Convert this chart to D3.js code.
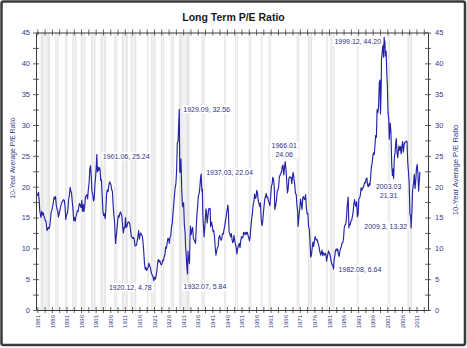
<!DOCTYPE html>
<html>
<head>
<meta charset="utf-8">
<script src="https://cdn.jsdelivr.net/npm/d3@7"></script>
<style>
  body { margin: 0; background: #fff; }
  svg { display: block; font-family: "Liberation Sans", Arial, sans-serif; }
</style>
</head>
<body>
<svg id="chart" width="467" height="348"></svg>
<script>
// Cyclically adjusted P/E (10-year average earnings): [year, month, ratio]
const capeSeries = [
  [1881,1,18.5],[1881,4,18.9],[1881,6,19.1],[1881,9,17.6],[1881,11,16.2],
  [1882,1,15.6],[1882,4,15.0],[1882,7,16.0],[1882,10,15.4],
  [1883,1,15.8],[1883,4,15.3],[1883,7,14.9],[1883,10,14.5],
  [1884,1,14.3],[1884,4,13.1],[1884,6,12.9],[1884,10,13.4],
  [1885,1,13.2],[1885,4,13.5],[1885,7,14.6],[1885,10,15.9],
  [1886,1,16.2],[1886,4,16.8],[1886,7,17.5],[1886,10,18.3],
  [1887,1,18.0],[1887,4,18.4],[1887,7,17.0],[1887,10,16.4],
  [1888,1,16.0],[1888,4,15.1],[1888,7,15.6],[1888,10,16.2],
  [1889,1,16.8],[1889,4,17.2],[1889,7,17.5],[1889,10,17.7],
  [1890,1,17.9],[1890,4,17.8],[1890,7,16.8],[1890,10,14.7],
  [1891,1,15.4],[1891,4,15.6],[1891,7,16.4],[1891,10,18.0],
  [1892,1,18.6],[1892,4,19.9],[1892,7,19.3],[1892,10,18.9],
  [1893,1,17.5],[1893,4,16.2],[1893,7,14.5],[1893,10,15.0],
  [1894,1,14.4],[1894,4,15.2],[1894,7,15.6],[1894,10,16.1],
  [1895,1,16.0],[1895,4,16.8],[1895,7,17.3],[1895,10,16.9],
  [1896,1,16.6],[1896,4,17.8],[1896,7,16.0],[1896,10,17.1],
  [1897,1,16.0],[1897,4,16.8],[1897,7,18.3],[1897,10,18.5],
  [1898,1,18.7],[1898,4,18.0],[1898,7,19.6],[1898,10,20.6],
  [1899,1,22.9],[1899,4,23.4],[1899,7,21.6],[1899,10,19.2],
  [1900,1,18.8],[1900,4,17.7],[1900,7,18.0],[1900,10,20.4],
  [1901,1,21.7],[1901,4,23.6],[1901,6,25.24],[1901,8,22.4],[1901,10,23.2],
  [1902,1,22.6],[1902,4,23.1],[1902,7,22.8],[1902,10,21.0],
  [1903,1,21.1],[1903,4,18.5],[1903,7,16.0],[1903,10,15.3],
  [1904,1,15.6],[1904,4,14.8],[1904,7,16.3],[1904,10,18.8],
  [1905,1,19.5],[1905,4,19.2],[1905,7,20.1],[1905,10,20.8],
  [1906,1,20.6],[1906,4,20.3],[1906,7,19.5],[1906,10,19.2],
  [1907,1,17.0],[1907,4,15.4],[1907,7,14.2],[1907,10,11.5],[1907,11,10.8],
  [1908,1,11.6],[1908,4,12.8],[1908,7,14.2],[1908,10,15.3],
  [1909,1,15.0],[1909,4,15.6],[1909,7,15.9],[1909,10,15.6],
  [1910,1,15.1],[1910,4,13.6],[1910,7,12.5],[1910,10,13.4],
  [1911,1,13.3],[1911,4,15.0],[1911,7,13.4],[1911,10,13.6],
  [1912,1,14.1],[1912,4,14.3],[1912,7,14.2],[1912,10,13.9],
  [1913,1,12.8],[1913,4,11.9],[1913,7,11.8],[1913,10,11.6],
  [1914,1,11.8],[1914,4,11.4],[1914,7,10.4],[1914,12,10.5],
  [1915,1,10.5],[1915,4,11.2],[1915,7,12.0],[1915,10,12.9],
  [1916,1,11.5],[1916,4,12.2],[1916,7,12.5],[1916,10,12.2],
  [1917,1,12.0],[1917,4,10.9],[1917,7,9.4],[1917,10,7.5],
  [1918,1,6.6],[1918,4,6.9],[1918,7,6.4],[1918,10,6.7],
  [1919,1,6.9],[1919,4,7.6],[1919,7,7.2],[1919,10,6.9],
  [1920,1,6.2],[1920,4,5.8],[1920,7,5.6],[1920,10,5.2],[1920,12,4.78],
  [1921,2,5.2],[1921,4,5.3],[1921,7,5.0],[1921,10,5.6],
  [1922,1,6.4],[1922,4,7.6],[1922,7,8.2],[1922,10,7.8],
  [1923,1,8.0],[1923,4,7.6],[1923,7,7.3],[1923,10,7.5],
  [1924,1,8.1],[1924,4,8.0],[1924,7,8.6],[1924,10,9.0],
  [1925,1,10.2],[1925,4,10.0],[1925,7,10.8],[1925,10,11.6],
  [1926,1,11.6],[1926,4,10.8],[1926,7,11.8],[1926,10,12.0],
  [1927,1,13.4],[1927,4,14.0],[1927,7,15.6],[1927,10,17.0],
  [1928,1,18.4],[1928,4,19.8],[1928,7,20.4],[1928,10,22.5],
  [1929,1,27.1],[1929,4,27.3],[1929,7,30.5],[1929,9,32.56],[1929,11,22.5],
  [1930,1,22.3],[1930,4,24.5],[1930,7,19.8],[1930,10,17.0],
  [1931,1,16.7],[1931,3,17.4],[1931,6,13.8],[1931,9,12.6],[1931,11,10.2],
  [1932,1,9.3],[1932,4,7.2],[1932,6,6.2],[1932,7,5.84],[1932,9,9.5],[1932,11,8.0],
  [1933,1,8.7],[1933,3,7.5],[1933,5,11.2],[1933,7,13.6],[1933,10,12.2],
  [1934,1,13.0],[1934,4,13.4],[1934,7,11.6],[1934,10,11.4],
  [1935,1,11.1],[1935,4,10.8],[1935,7,13.5],[1935,10,15.6],
  [1936,1,17.1],[1936,4,18.6],[1936,7,18.9],[1936,10,20.0],
  [1937,1,21.6],[1937,3,22.04],[1937,6,19.3],[1937,8,19.6],[1937,10,15.6],[1937,12,14.0],
  [1938,1,13.4],[1938,3,11.9],[1938,6,13.3],[1938,9,15.2],[1938,11,16.4],
  [1939,1,15.9],[1939,4,14.1],[1939,7,15.2],[1939,10,16.4],
  [1940,1,16.4],[1940,4,16.5],[1940,6,13.5],[1940,10,14.3],
  [1941,1,13.6],[1941,4,12.7],[1941,7,12.9],[1941,10,11.9],
  [1942,1,10.1],[1942,4,8.9],[1942,7,9.6],[1942,10,10.1],
  [1943,1,10.3],[1943,4,11.8],[1943,7,12.1],[1943,10,11.6],
  [1944,1,11.3],[1944,4,11.6],[1944,7,12.4],[1944,10,12.3],
  [1945,1,13.0],[1945,4,13.6],[1945,7,14.4],[1945,10,15.1],
  [1946,1,16.0],[1946,5,17.0],[1946,7,16.2],[1946,10,12.6],
  [1947,1,12.4],[1947,4,11.9],[1947,7,12.4],[1947,10,11.5],
  [1948,1,10.9],[1948,4,11.2],[1948,6,12.1],[1948,10,11.1],
  [1949,1,10.5],[1949,4,10.0],[1949,6,9.1],[1949,10,10.1],
  [1950,1,10.5],[1950,4,10.8],[1950,7,10.1],[1950,10,11.2],
  [1951,1,11.9],[1951,4,11.7],[1951,7,11.8],[1951,10,12.6],
  [1952,1,12.5],[1952,4,12.2],[1952,7,12.6],[1952,10,12.3],
  [1953,1,12.6],[1953,4,12.1],[1953,7,11.7],[1953,10,11.2],
  [1954,1,12.0],[1954,4,13.6],[1954,7,14.8],[1954,10,15.7],
  [1955,1,17.1],[1955,4,17.6],[1955,7,18.8],[1955,10,18.1],
  [1956,1,18.3],[1956,4,19.4],[1956,7,19.0],[1956,10,17.8],
  [1957,1,17.2],[1957,4,16.8],[1957,7,17.4],[1957,10,14.8],
  [1958,1,13.7],[1958,4,14.2],[1958,7,15.6],[1958,10,16.9],
  [1959,1,18.0],[1959,4,18.4],[1959,7,18.9],[1959,10,18.2],
  [1960,1,18.3],[1960,4,17.6],[1960,7,17.4],[1960,10,16.9],
  [1961,1,18.3],[1961,4,20.0],[1961,7,20.4],[1961,10,21.5],
  [1962,1,21.2],[1962,4,19.9],[1962,6,16.3],[1962,10,17.0],
  [1963,1,17.8],[1963,4,19.3],[1963,7,19.4],[1963,10,20.1],
  [1964,1,21.6],[1964,4,21.9],[1964,7,22.2],[1964,10,22.4],
  [1965,1,23.3],[1965,4,23.5],[1965,7,21.9],[1965,10,23.1],
  [1966,1,24.06],[1966,4,22.8],[1966,7,21.0],[1966,10,19.0],
  [1967,1,19.6],[1967,4,21.3],[1967,7,21.6],[1967,10,21.5],
  [1968,1,21.5],[1968,4,20.5],[1968,7,21.7],[1968,10,22.3],
  [1969,1,21.2],[1969,4,20.4],[1969,7,18.9],[1969,10,18.8],
  [1970,1,17.1],[1970,4,16.0],[1970,6,13.6],[1970,10,15.4],
  [1971,1,16.5],[1971,4,18.0],[1971,7,17.2],[1971,10,16.3],
  [1972,1,18.1],[1972,4,18.4],[1972,7,18.0],[1972,10,17.9],
  [1973,1,18.7],[1973,4,16.6],[1973,7,15.6],[1973,10,15.7],
  [1974,1,13.5],[1974,4,13.2],[1974,7,11.0],[1974,10,8.6],
  [1975,1,8.9],[1975,4,10.1],[1975,7,11.0],[1975,10,10.3],
  [1976,1,11.2],[1976,4,11.9],[1976,7,11.5],[1976,10,11.3],
  [1977,1,11.4],[1977,4,10.8],[1977,7,10.5],[1977,10,9.7],
  [1978,1,9.2],[1978,3,8.9],[1978,8,9.7],[1978,11,8.8],
  [1979,1,9.3],[1979,4,9.1],[1979,7,8.9],[1979,10,9.2],
  [1980,1,8.9],[1980,3,7.9],[1980,7,8.8],[1980,11,9.6],
  [1981,1,9.3],[1981,4,9.1],[1981,7,8.6],[1981,10,7.9],
  [1982,1,7.4],[1982,4,7.3],[1982,8,6.64],[1982,10,8.1],
  [1983,1,8.8],[1983,4,9.7],[1983,7,9.9],[1983,10,9.6],
  [1984,1,9.9],[1984,4,9.0],[1984,7,8.7],[1984,10,9.6],
  [1985,1,10.0],[1985,4,10.3],[1985,7,10.9],[1985,10,10.9],
  [1986,1,11.7],[1986,4,13.4],[1986,7,13.8],[1986,10,13.9],
  [1987,1,14.9],[1987,4,16.9],[1987,8,18.3],[1987,11,13.3],
  [1988,1,13.9],[1988,4,13.8],[1988,7,14.4],[1988,10,14.5],
  [1989,1,15.1],[1989,4,15.8],[1989,7,17.0],[1989,10,17.9],
  [1990,1,17.1],[1990,4,16.8],[1990,7,17.6],[1990,10,15.1],
  [1991,1,15.6],[1991,4,18.0],[1991,7,18.2],[1991,10,18.6],
  [1992,1,19.8],[1992,4,19.4],[1992,7,19.8],[1992,10,19.8],
  [1993,1,20.3],[1993,4,20.7],[1993,7,20.6],[1993,10,21.3],
  [1994,1,21.4],[1994,4,20.2],[1994,7,20.0],[1994,10,20.5],
  [1995,1,20.2],[1995,4,21.3],[1995,7,23.0],[1995,10,23.7],
  [1996,1,24.8],[1996,4,25.5],[1996,7,25.2],[1996,10,26.6],
  [1997,1,28.3],[1997,4,28.0],[1997,7,32.5],[1997,10,32.0],
  [1998,1,32.9],[1998,4,36.9],[1998,7,37.3],[1998,9,31.8],[1998,12,36.4],
  [1999,1,40.6],[1999,4,41.8],[1999,7,43.0],[1999,10,41.0],[1999,12,44.2],
  [2000,1,43.8],[2000,3,43.5],[2000,5,41.2],[2000,8,42.0],[2000,10,39.5],[2000,12,37.3],
  [2001,1,36.7],[2001,4,32.0],[2001,7,30.9],[2001,9,27.7],[2001,11,29.2],
  [2002,1,30.3],[2002,4,28.8],[2002,7,23.7],[2002,10,21.8],
  [2003,1,22.9],[2003,3,21.31],[2003,6,24.8],[2003,9,25.6],[2003,12,27.2],
  [2004,2,27.8],[2004,5,25.5],[2004,8,24.7],[2004,11,26.0],
  [2005,1,26.6],[2005,4,25.9],[2005,7,26.5],[2005,10,25.3],
  [2006,1,26.5],[2006,4,27.3],[2006,7,25.6],[2006,10,26.8],
  [2007,1,27.2],[2007,4,27.2],[2007,7,27.4],[2007,10,27.3],
  [2008,1,24.0],[2008,4,22.5],[2008,7,20.5],[2008,10,15.6],
  [2009,1,15.2],[2009,3,13.32],[2009,6,15.8],[2009,9,19.4],[2009,12,20.3],
  [2010,1,20.5],[2010,4,22.0],[2010,7,19.7],[2010,10,20.9],
  [2011,1,23.0],[2011,4,23.6],[2011,7,22.1],[2011,10,19.3],
  [2012,1,21.2],[2012,3,22.4]
];

// Recession periods: [startYear, startMonth, endYear, endMonth]
const recessions = [
  [1882,3,1885,5],[1887,3,1888,4],[1890,7,1891,5],[1893,1,1894,6],
  [1895,12,1897,6],[1899,6,1900,12],[1902,9,1904,8],[1907,5,1908,6],
  [1910,1,1912,1],[1913,1,1914,12],[1918,8,1919,3],[1920,1,1921,7],
  [1923,5,1924,7],[1926,10,1927,11],[1929,8,1933,3],[1937,5,1938,6],
  [1945,2,1945,10],[1948,11,1949,10],[1953,7,1954,5],[1957,8,1958,4],
  [1960,4,1961,2],[1969,12,1970,11],[1973,11,1975,3],[1980,1,1980,7],
  [1981,7,1982,11],[1990,7,1991,3],[2001,3,2001,11],[2007,12,2009,6]
];

const yearTicks = [1881,1886,1891,1896,1901,1906,1911,1916,1921,1926,1931,1936,1941,
  1946,1951,1956,1961,1966,1971,1976,1981,1986,1991,1996,2001,2006,2011];
const peTicks = [0,5,10,15,20,25,30,35,40,45];

// Annotated extremes: label lines with the dated value they mark
const callouts = [
  {lines:["1901.06, 25.24"], year:1901, month:6, value:25.24},
  {lines:["1920.12, 4.78"], year:1920, month:12, value:4.78},
  {lines:["1929.09, 32.56"], year:1929, month:9, value:32.56},
  {lines:["1932.07, 5.84"], year:1932, month:7, value:5.84},
  {lines:["1937.03, 22.04"], year:1937, month:3, value:22.04},
  {lines:["1966.01", "24.06"], year:1966, month:1, value:24.06},
  {lines:["1982.08, 6.64"], year:1982, month:8, value:6.64},
  {lines:["1999.12, 44.20"], year:1999, month:12, value:44.20},
  {lines:["2003.03", "21.31"], year:2003, month:3, value:21.31},
  {lines:["2009.3, 13.32"], year:2009, month:3, value:13.32}
];

// ---- layout ----
const plot = {left: 36, right: 428, top: 32.5, bottom: 310};
const lineColor = "#2323a6";
const labelColor = "#353a8a";
const axisColor = "#3c3c3c";

// placement of each callout relative to its point: anchor, dx, first-line dy
const calloutPlacement = {
  "1901.06, 25.24": {anchor:"start", dx:6, dy:2},
  "1920.12, 4.78": {anchor:"end", dx:-2, dy:7},
  "1929.09, 32.56": {anchor:"start", dx:4, dy:0},
  "1932.07, 5.84": {anchor:"start", dx:-4, dy:13},
  "1937.03, 22.04": {anchor:"start", dx:5, dy:-1.5},
  "1966.01": {anchor:"middle", dx:-1, dy:-16},
  "1982.08, 6.64": {anchor:"start", dx:5, dy:0},
  "1999.12, 44.20": {anchor:"end", dx:-3, dy:4.5},
  "2003.03": {anchor:"middle", dx:-5, dy:8},
  "2009.3, 13.32": {anchor:"end", dx:-4, dy:-1}
};

const dec = (yr, mo) => yr + (mo - 1) / 12;

const x = d3.scaleLinear().domain([1880.55, 2014.95]).range([plot.left, plot.right]);
const y = d3.scaleLinear().domain([0, 45]).range([plot.bottom, plot.top]);

const svg = d3.select("#chart");

// outer frame
svg.append("rect").attr("x", 0).attr("y", 0).attr("width", 467).attr("height", 348).attr("fill", "#fff");
svg.append("rect")
  .attr("x", 1.5).attr("y", 1.5).attr("width", 463.5).attr("height", 343.5).attr("rx", 2)
  .attr("fill", "#fff").attr("stroke", "#3a3a3a").attr("stroke-width", 2.5);

// title
svg.append("text")
  .attr("x", 233.5).attr("y", 20.5).attr("text-anchor", "middle")
  .attr("font-size", 10.5).attr("font-weight", "bold").attr("fill", "#1a1a1a")
  .text("Long Term P/E Ratio");

// recession shading with soft edges
const defs = svg.append("defs");
const grad = defs.append("linearGradient").attr("id", "bandFill").attr("x1", 0).attr("x2", 1).attr("y1", 0).attr("y2", 0);
grad.append("stop").attr("offset", "0%").attr("stop-color", "#e0e0e0");
grad.append("stop").attr("offset", "50%").attr("stop-color", "#f4f4f4");
grad.append("stop").attr("offset", "100%").attr("stop-color", "#e0e0e0");

svg.append("g").selectAll("rect").data(recessions).join("rect")
  .attr("x", d => x(dec(d[0], d[1])))
  .attr("width", d => Math.max(1.6, x(dec(d[2], d[3])) - x(dec(d[0], d[1]))))
  .attr("y", plot.top)
  .attr("height", plot.bottom - plot.top)
  .attr("fill", "url(#bandFill)");

// series line
const line = d3.line().x(d => x(dec(d[0], d[1]))).y(d => y(d[2]));
svg.append("path").datum(capeSeries)
  .attr("d", line).attr("fill", "none")
  .attr("stroke", lineColor).attr("stroke-width", 1.15).attr("stroke-linejoin", "round");

// axes
const xMinor = d3.range(yearTicks[0], 2014, 2.5);
const yMinor = d3.range(0, 45.01, 2.5);

function styleAxis(g) {
  g.select(".domain").attr("stroke", axisColor).attr("stroke-width", 1);
  g.selectAll(".tick line").attr("stroke", axisColor).attr("stroke-width", 0.8);
  g.selectAll(".tick text").attr("fill", labelColor).attr("font-family", "Liberation Sans, Arial, sans-serif");
}

const isYearLabel = v => yearTicks.includes(v);
const gBottom = svg.append("g").attr("transform", `translate(0,${plot.bottom})`)
  .call(d3.axisBottom(x).tickValues(xMinor).tickSize(3).tickSizeOuter(0)
    .tickFormat(v => isYearLabel(v) ? String(v) : ""));
styleAxis(gBottom);
gBottom.selectAll(".tick line").attr("y1", -3);
gBottom.selectAll(".tick text")
  .attr("font-size", 6).attr("transform", "rotate(-90)")
  .attr("x", -5).attr("y", 0).attr("dy", "0.35em").attr("text-anchor", "end");

const gTop = svg.append("g").attr("transform", `translate(0,${plot.top})`)
  .call(d3.axisTop(x).tickValues(xMinor).tickSize(3).tickSizeOuter(0).tickFormat(""));
styleAxis(gTop);
gTop.selectAll(".tick line").attr("y1", 3);

const isPeLabel = v => peTicks.includes(v);
const gLeft = svg.append("g").attr("transform", `translate(${plot.left},0)`)
  .call(d3.axisLeft(y).tickValues(yMinor).tickSize(3).tickSizeOuter(0)
    .tickFormat(v => isPeLabel(v) ? String(v) : ""));
styleAxis(gLeft);
gLeft.selectAll(".tick line").attr("x1", 3);
gLeft.selectAll(".tick text").attr("font-size", 7.5).attr("x", -6);

const gRight = svg.append("g").attr("transform", `translate(${plot.right},0)`)
  .call(d3.axisRight(y).tickValues(yMinor).tickSize(3).tickSizeOuter(0)
    .tickFormat(v => isPeLabel(v) ? String(v) : ""));
styleAxis(gRight);
gRight.selectAll(".tick line").attr("x1", -3);
gRight.selectAll(".tick text").attr("font-size", 7.5).attr("x", 7);

// axis titles
svg.append("text")
  .attr("transform", "translate(13,158) rotate(-90)")
  .attr("text-anchor", "middle").attr("dy", "0.35em")
  .attr("font-size", 6.8).attr("fill", labelColor)
  .text("10-Year Average P/E Ratio");
svg.append("text")
  .attr("transform", "translate(455,170) rotate(-90)")
  .attr("text-anchor", "middle").attr("dy", "0.35em")
  .attr("font-size", 7.6).attr("fill", labelColor)
  .text("10-Year Average P/E Ratio");

// callouts with white backing
const gCallouts = svg.append("g");
callouts.forEach(c => {
  const p = calloutPlacement[c.lines[0]];
  const cx = x(dec(c.year, c.month)) + p.dx;
  const cy = y(c.value) + p.dy;
  const g = gCallouts.append("g");
  const t = g.append("text")
    .attr("font-size", 7).attr("fill", "#2d3480").attr("text-anchor", p.anchor);
  c.lines.forEach((ln, i) => {
    t.append("tspan").attr("x", cx).attr("y", cy + i * 9.2).attr("dy", "0.35em").text(ln);
  });
  const bb = t.node().getBBox();
  g.insert("rect", "text")
    .attr("x", bb.x - 1.5).attr("y", bb.y - 0.5)
    .attr("width", bb.width + 3).attr("height", bb.height + 1)
    .attr("fill", "#fff");
});
</script>
</body>
</html>
